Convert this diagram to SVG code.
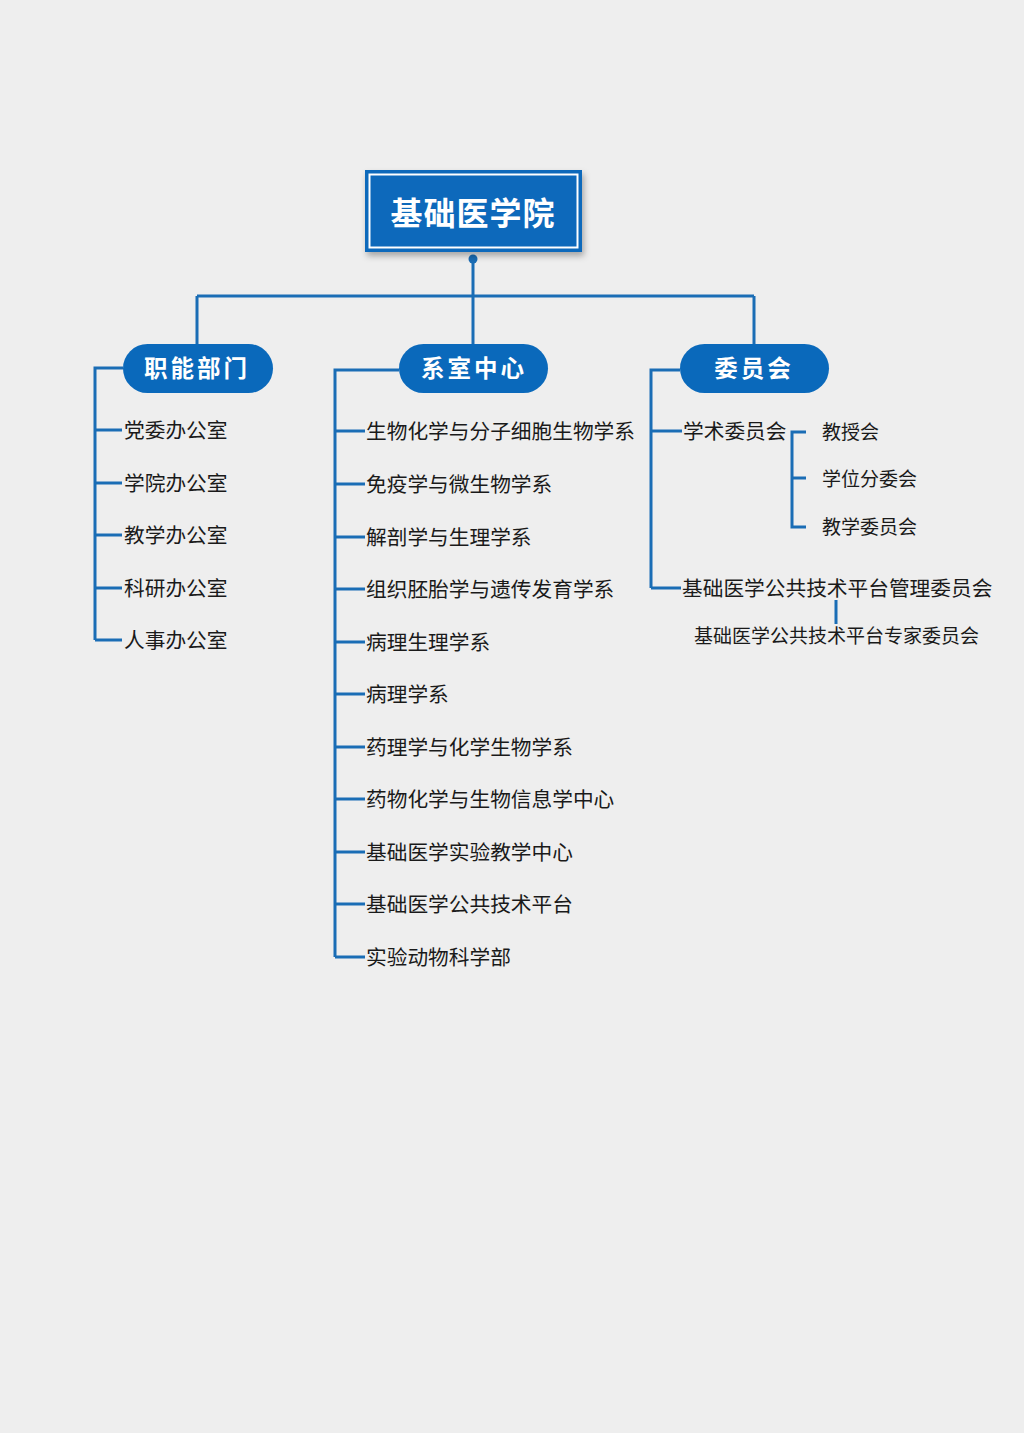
<svg xmlns="http://www.w3.org/2000/svg" width="1024" height="1433" viewBox="0 0 1024 1433">
<defs>
<style>
.ln{stroke:#1a6db5;stroke-width:3;fill:none}
.pill{fill:#0a69bb}
.pt{font-family:"Noto Sans CJK SC","Noto Sans",sans-serif;font-weight:bold;font-size:23.5px;fill:#ffffff;text-anchor:middle;letter-spacing:3px}
.t{font-family:"Noto Sans CJK SC","Noto Sans",sans-serif;font-size:20.7px;fill:#1a1a1a}
.s{font-family:"Noto Sans CJK SC","Noto Sans",sans-serif;font-size:19px;fill:#1a1a1a}
</style>
<filter id="sh" x="-10%" y="-10%" width="125%" height="135%">
<feDropShadow dx="2" dy="4" stdDeviation="3" flood-color="#000" flood-opacity="0.3"/>
</filter>
</defs>
<rect width="1024" height="1433" fill="#eeeeee"/>
<g id="connectors">
<circle cx="473" cy="259" r="4.5" fill="#1a6db5"/>
<path class="ln" d="M473 259V296M197 296H754M197 296V345M473 296V345M754 296V345"/>
<path class="ln" d="M123 368H95V640M95 430H122M95 483H122M95 535H122M95 588H122M95 640H122"/>
<path class="ln" d="M399 370H335V957M335 431H365M335 484H365M335 537H365M335 589H365M335 642H365M335 694H365M335 747H365M335 799H365M335 852H365M335 904H365M335 957H365"/>
<path class="ln" d="M680 370H651V588M651 431H682M651 588H681"/>
<path class="ln" d="M806 432H792V527H806M792 478H806"/>
<path class="ln" d="M836 600V624"/>
</g>
<g id="root">
<rect x="365" y="170" width="217" height="82" fill="#0a69bb" filter="url(#sh)"/>
<rect x="369.5" y="174.5" width="208" height="73" fill="none" stroke="#ffffff" stroke-width="2"/>
<text x="473" y="225" font-family="'Noto Sans CJK SC','Noto Sans',sans-serif" font-weight="bold" font-size="32" fill="#ffffff" text-anchor="middle" letter-spacing="1">基础医学院</text>
</g>
<g id="n-zhineng"><rect class="pill" x="123" y="344" width="150" height="49" rx="24.5"/><text class="pt" x="197" y="377">职能部门</text></g>
<g id="n-xishi"><rect class="pill" x="399" y="344" width="149" height="49" rx="24.5"/><text class="pt" x="474" y="377">系室中心</text></g>
<g id="n-weiyuan"><rect class="pill" x="680" y="344" width="149" height="49" rx="24.5"/><text class="pt" x="754" y="377">委员会</text></g>
<g id="left-items">
<text class="t" x="124" y="438">党委办公室</text>
<text class="t" x="124" y="491">学院办公室</text>
<text class="t" x="124" y="543">教学办公室</text>
<text class="t" x="124" y="596">科研办公室</text>
<text class="t" x="124" y="648">人事办公室</text>
</g>
<g id="mid-items">
<text class="t" x="366" y="439">生物化学与分子细胞生物学系</text>
<text class="t" x="366" y="492">免疫学与微生物学系</text>
<text class="t" x="366" y="545">解剖学与生理学系</text>
<text class="t" x="366" y="597">组织胚胎学与遗传发育学系</text>
<text class="t" x="366" y="650">病理生理学系</text>
<text class="t" x="366" y="702">病理学系</text>
<text class="t" x="366" y="755">药理学与化学生物学系</text>
<text class="t" x="366" y="807">药物化学与生物信息学中心</text>
<text class="t" x="366" y="860">基础医学实验教学中心</text>
<text class="t" x="366" y="912">基础医学公共技术平台</text>
<text class="t" x="366" y="965">实验动物科学部</text>
</g>
<g id="right-items">
<text class="t" x="683" y="439">学术委员会</text>
<text class="s" x="822" y="439">教授会</text>
<text class="s" x="822" y="486">学位分委会</text>
<text class="s" x="822" y="534">教学委员会</text>
<text class="t" x="682" y="596">基础医学公共技术平台管理委员会</text>
<text class="s" x="694" y="643">基础医学公共技术平台专家委员会</text>
</g>
</svg>
